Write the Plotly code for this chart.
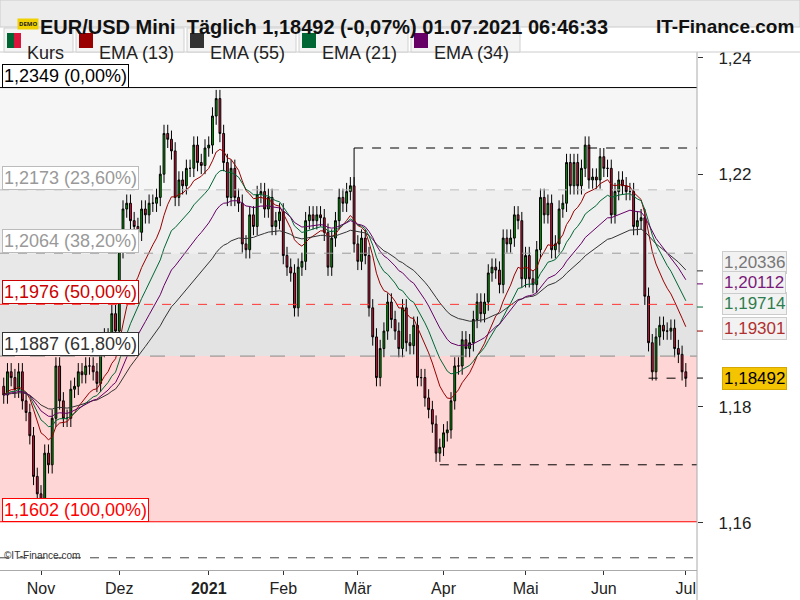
import plotly.graph_objects as go
import pandas as pd

closes = [
1.1820,1.1860,1.1850,1.1830,1.1860,
1.1810,1.1790,1.1750,1.1680,1.1650,
1.1640,1.1720,1.1700,1.1780,1.1870,
1.1810,1.1780,1.1780,1.1830,1.1835,
1.1860,1.1855,1.1870,1.1870,1.1860,
1.1840,1.1900,1.1920,1.1910,1.1960,
1.1930,1.2070,1.2140,1.2150,1.2120,
1.2110,1.2100,1.2140,1.2130,1.2150,
1.2150,1.2160,1.2200,1.2270,1.2260,
1.2240,1.2160,1.2190,1.2180,1.2210,
1.2210,1.2250,1.2220,1.2215,1.2245,
1.2250,1.2300,1.2330,1.2270,1.2220,
1.2160,1.2210,1.2160,1.2150,1.2080,
1.2070,1.2130,1.2110,1.2165,1.2170,
1.2140,1.2160,1.2110,1.2120,1.2135,
1.2060,1.2040,1.2030,1.1970,1.2040,
1.2050,1.2120,1.2130,1.2120,1.2130,
1.2125,1.2100,1.2040,1.2090,1.2120,
1.2160,1.2150,1.2170,1.2180,1.2080,
1.2050,1.2090,1.2060,1.1970,1.1920,
1.1850,1.1900,1.1930,1.1980,1.1950,
1.1930,1.1900,1.1970,1.1910,1.1905,
1.1940,1.1850,1.1850,1.1815,1.1795,
1.1770,1.1720,1.1730,1.1755,1.1760,
1.1810,1.1870,1.1870,1.1915,1.1900,
1.1910,1.1950,1.1980,1.1960,1.1980,
1.2030,1.2040,1.2035,1.2010,1.2090,
1.2080,1.2090,1.2130,1.2120,1.2020,
1.2060,1.2020,1.2010,1.2070,1.2160,
1.2130,1.2150,1.2070,1.2080,1.2140,
1.2150,1.2220,1.2180,1.2220,1.2180,
1.2210,1.2250,1.2190,1.2195,1.2190,
1.2230,1.2210,1.2210,1.2130,1.2170,
1.2190,1.2180,1.2170,1.2170,1.2110,
1.2120,1.2125,1.1990,1.1910,1.1860,
1.1920,1.1940,1.1930,1.1930,1.1935,
1.1900,1.1890,1.1860,1.1849]
first_open = 1.1835
wick = 0.0015

fib_levels = [1.2349, 1.2173, 1.2064, 1.1976, 1.1887, 1.1602]
fib_labels = ["1,2349 (0,00%)", "1,2173 (23,60%)", "1,2064 (38,20%)", "1,1976 (50,00%)", "1,1887 (61,80%)", "1,1602 (100,00%)"]
fib_text_colors = ["#000000", "#999999", "#999999", "#cc0000", "#333333", "#ff0000"]
fib_line_colors = ["#000000", "#bbbbbb", "#999999", "#ff3333", "#888888", "#ff0000"]
fib_dash = ["solid", "dash", "dash", "dash", "longdash", "solid"]
band_colors = ["#f6f6f6", "#efefef", "#e8e8e8", "#e3e3e3", "#ffd6d6"]

ema_periods = [13, 55, 21, 34]
ema_colors = ["#990000", "#333333", "#006633", "#660066"]
ema_last_text = ["1,19301", "1,20336", "1,19714", "1,20112"]
ema_last_val = [1.19301, 1.20336, 1.19714, 1.20112]
ema_label_shift = [3, 8, 4, 1]

y_ticks = [1.16, 1.18, 1.22, 1.24]
month_ticks = ["2020-11-02", "2020-12-01", "2021-01-04", "2021-02-01", "2021-03-01", "2021-04-01", "2021-05-03", "2021-06-01", "2021-07-01"]
month_labels = ["Nov", "Dez", "<b>2021</b>", "Feb", "Mär", "Apr", "Mai", "Jun", "Jul"]

dates = pd.bdate_range("2020-10-19", periods=len(closes))
opens = [first_open] + closes[:-1]
highs = [max(o, c) + wick for o, c in zip(opens, closes)]
lows = [min(o, c) - wick for o, c in zip(opens, closes)]
s = pd.Series(closes)

fig = go.Figure()
fig.add_trace(go.Candlestick(x=dates, open=opens, high=highs, low=lows, close=closes,
    increasing=dict(line=dict(color="black", width=1), fillcolor="#00a000"),
    decreasing=dict(line=dict(color="black", width=1), fillcolor="#dc143c"),
    whiskerwidth=0, showlegend=False, hoverinfo="skip"))
for p, col in zip(ema_periods, ema_colors):
    fig.add_trace(go.Scatter(x=dates, y=s.ewm(span=p, adjust=False).mean(), mode="lines",
                             line=dict(color=col, width=1), showlegend=False, hoverinfo="skip"))

W, T, B = 697.0, 55.0, 570.0
def px(x): return x / W
def py(y): return (B - y) / (B - T)

shapes, ann = [], []
for i in range(5):
    shapes.append(dict(type="rect", xref="paper", yref="y", x0=0, x1=1, y0=fib_levels[i+1], y1=fib_levels[i],
                       fillcolor=band_colors[i], line_width=0, layer="below"))
for lv, lab, tc, lc, ds in zip(fib_levels, fib_labels, fib_text_colors, fib_line_colors, fib_dash):
    shapes.append(dict(type="line", xref="paper", yref="y", x0=0, x1=1, y0=lv, y1=lv,
                       line=dict(color=lc, width=1, dash=ds)))
    ann.append(dict(xref="paper", yref="y", x=0.003, y=lv, text=lab, showarrow=False, xanchor="left", yanchor="bottom",
                    font=dict(size=18, color=tc, family="Arial"), bgcolor="white", bordercolor=tc if tc != "#999999" else "#bbbbbb",
                    borderwidth=1, borderpad=1))
for x0, x1, lv in [("2021-02-26", "2021-07-06", 1.2245), ("2021-03-31", "2021-07-06", 1.1700), ("2021-06-17", "2021-07-01", 1.1849)]:
    shapes.append(dict(type="line", xref="x", yref="y", x0=x0, x1=x1, y0=lv, y1=lv, line=dict(color="black", width=1, dash="dash")))
shapes.append(dict(type="line", xref="x", yref="y", x0="2021-02-26", x1="2021-02-26", y0=1.2180, y1=1.2245, line=dict(color="black", width=1)))
shapes.append(dict(type="line", xref="paper", yref="y", x0=0, x1=1, y0=1.1540, y1=1.1540, line=dict(color="#444", width=1, dash="dash")))
shapes.append(dict(type="line", xref="paper", yref="paper", x0=1, x1=1, y0=py(600), y1=py(52), line=dict(color="#aaaaaa", width=1)))
shapes.append(dict(type="rect", xref="paper", yref="paper", x0=px(0), x1=px(800), y0=py(27), y1=py(0), fillcolor="#ececec", line=dict(color="#cccccc", width=1), layer="below"))
shapes.append(dict(type="line", xref="paper", yref="paper", x0=0, x1=px(800), y0=py(52), y1=py(52), line=dict(color="#cccccc", width=1)))
ann.append(dict(xref="paper", yref="paper", x=px(38), y=py(14), text="<b>EUR/USD Mini  Täglich 1,18492 (-0,07%) 01.07.2021 06:46:33</b>",
                showarrow=False, xanchor="left", font=dict(size=20, color="#111", family="Arial")))
ann.append(dict(xref="paper", yref="paper", x=px(796), y=py(14), text="<b>IT-Finance.com</b>", showarrow=False, xanchor="right",
                font=dict(size=19, color="#111", family="Arial")))
ann.append(dict(xref="paper", yref="paper", x=px(17), y=py(18), text="<b>DEMO</b>", showarrow=False,
                font=dict(size=6, color="#222"), bgcolor="#f0d000", borderpad=1))
leg = [("Kurs", None, 4, 73), ("EMA (13)", "#990000", 76, 184), ("EMA (55)", "#333333", 187, 296), ("EMA (21)", "#006633", 299, 408), ("EMA (34)", "#660066", 411, 520)]
for name, col, a, b in leg:
    shapes.append(dict(type="rect", xref="paper", yref="paper", x0=px(a), x1=px(b), y0=py(52), y1=py(28), fillcolor="#f4f4f4", line=dict(color="#d0d0d0", width=1)))
    if col is None:
        shapes.append(dict(type="rect", xref="paper", yref="paper", x0=px(a+3), x1=px(a+10), y0=py(48), y1=py(33), fillcolor="#006633", line_width=0))
        shapes.append(dict(type="rect", xref="paper", yref="paper", x0=px(a+10), x1=px(a+17), y0=py(48), y1=py(33), fillcolor="#dc143c", line_width=0))
    else:
        shapes.append(dict(type="rect", xref="paper", yref="paper", x0=px(a+3), x1=px(a+17), y0=py(48), y1=py(33), fillcolor=col, line_width=0))
    ann.append(dict(xref="paper", yref="paper", x=px(a+21), y=py(41), text=name, showarrow=False, xanchor="left",
                    font=dict(size=18, color="#222", family="Arial")))
for txt, v, col, sh in zip(ema_last_text, ema_last_val, ema_colors, ema_label_shift):
    c = "#777777" if col == "#333333" else ("#2e7d4f" if col == "#006633" else ("#b03030" if col == "#990000" else "#7a1a7a"))
    shapes.append(dict(type="line", xref="paper", yref="y", x0=px(697), x1=px(703), y0=v, y1=v, line=dict(color=col, width=1)))
    ann.append(dict(xref="paper", yref="y", x=px(722), y=v, yshift=sh, text=txt, showarrow=False, xanchor="left",
                    font=dict(size=17, color=c, family="Arial"), bgcolor="#f2f2f2", bordercolor="#cccccc", borderwidth=1, borderpad=1))
shapes.append(dict(type="line", xref="paper", yref="y", x0=px(697), x1=px(703), y0=1.18492, y1=1.18492, line=dict(color="#000", width=1)))
ann.append(dict(xref="paper", yref="y", x=px(722), y=1.18492, text="1,18492", showarrow=False, xanchor="left",
                font=dict(size=17, color="#000", family="Arial"), bgcolor="#f5c400", bordercolor="#d4a800", borderwidth=1, borderpad=1))
ann.append(dict(xref="paper", yref="paper", x=px(2), y=py(563), text="©IT-Finance.com", showarrow=False, xanchor="left",
                font=dict(size=10, color="#333", family="Arial")))

fig.update_layout(width=800, height=600, margin=dict(l=0, r=103, t=55, b=30, autoexpand=False), paper_bgcolor="white", plot_bgcolor="white",
                  separators=",.", shapes=shapes, annotations=ann, showlegend=False)
fig.update_xaxes(rangeslider_visible=False, rangebreaks=[dict(bounds=["sat", "mon"])], range=["2020-10-16", "2021-07-06"],
                 tickvals=month_ticks, ticktext=month_labels, showgrid=False, ticks="outside", ticklen=4, tickcolor="#333",
                 tickfont=dict(size=16, color="#222", family="Arial"), showline=True, linecolor="#aaaaaa")
fig.update_yaxes(side="right", range=[1.1519, 1.2405], tickvals=y_ticks, tickformat=".2f", showgrid=False, ticks="outside",
                 ticklen=5, tickcolor="#333", ticklabelstandoff=12, tickfont=dict(size=17, color="#222", family="Arial"), zeroline=False)
fig.write_html("out.html", config={"displayModeBar": False},
               post_script="document.body.style.margin='0px';document.body.style.overflow='hidden';")
